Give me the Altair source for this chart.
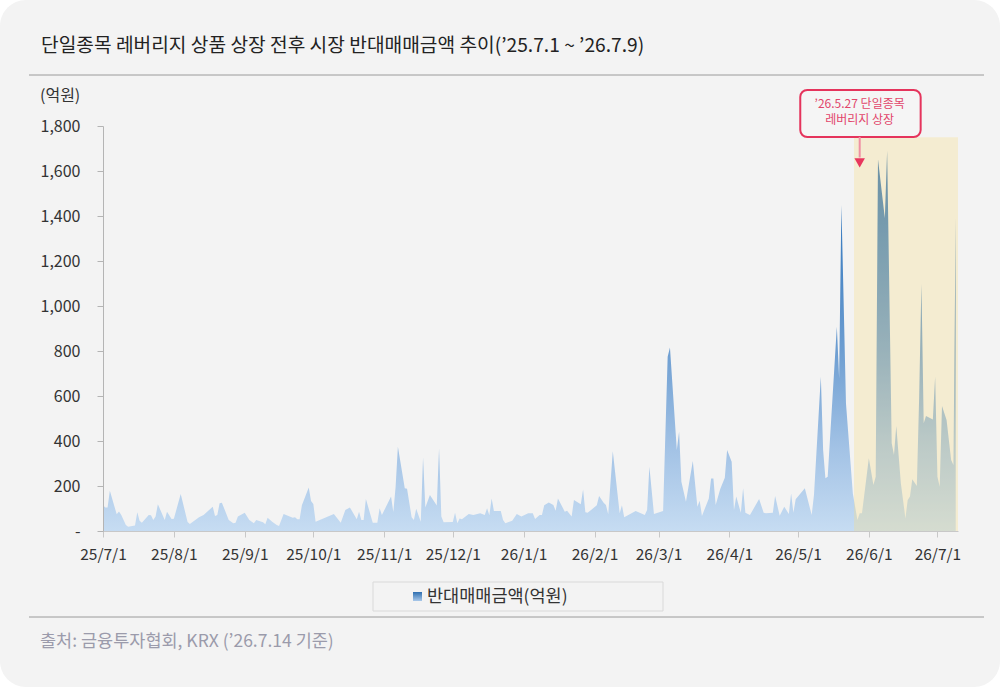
import altair as alt
import pandas as pd

# ---------------- data ----------------
BASE_DATE = "2025-07-01"
# day offsets from 2025-07-01 and the reverse-trade amount (억원)
DAY_OFFSET = [
    0, 1, 2, 3, 6, 7, 8, 10, 11, 14, 15, 16, 17, 20, 21, 22, 23, 24, 27, 28,
    30, 31, 34, 37, 38, 42, 44, 48, 49, 50, 51, 52, 55, 57, 58, 59, 62, 64, 66, 67,
    70, 71, 72, 74, 76, 77, 79, 83, 84, 85, 86, 87, 90, 91, 92, 93, 101, 104, 106, 108,
    111, 112, 113, 114, 115, 118, 120, 121, 122, 126, 127, 128, 129, 132, 133, 135, 136, 137, 139, 140,
    141, 143, 146, 147, 148, 149, 153, 154, 155, 156, 157, 160, 162, 165, 167, 168, 169, 170, 171, 174,
    175, 176, 179, 181, 183, 186, 188, 189, 191, 192, 193, 195, 197, 198, 199, 202, 203, 205, 206, 209,
    210, 211, 212, 216, 217, 219, 220, 221, 223, 226, 227, 228, 233, 237, 238, 239, 241, 245, 247, 248,
    251, 252, 253, 255, 258, 260, 261, 262, 265, 266, 267, 268, 270, 272, 273, 275, 276, 277, 279, 280,
    281, 283, 287, 289, 290, 293, 294, 296, 298, 300, 301, 302, 303, 307, 310, 311, 314, 315, 316, 317,
    321, 322, 323, 325, 328, 330, 331, 332, 335, 337, 338, 339, 342, 343, 345, 346, 347, 349, 351, 352,
    353, 354, 356, 357, 358, 359, 360, 363, 364, 365, 366, 367, 369, 371, 372, 373,
]
AMOUNT = [
    115, 104, 105, 179, 74, 87, 71, 27, 19, 24, 83, 46, 37, 71, 70, 49, 64, 119, 49, 86,
    53, 55, 164, 40, 31, 61, 71, 108, 67, 71, 123, 126, 49, 34, 37, 64, 81, 49, 34, 49,
    39, 30, 59, 41, 27, 22, 76, 59, 61, 52, 52, 114, 193, 133, 120, 41, 76, 37, 93, 105,
    52, 86, 49, 49, 142, 37, 37, 101, 71, 153, 84, 197, 375, 190, 188, 61, 49, 99, 41, 327,
    105, 160, 113, 367, 64, 39, 40, 81, 34, 56, 52, 76, 71, 79, 71, 101, 70, 145, 89, 89,
    49, 34, 46, 76, 64, 79, 79, 53, 71, 71, 114, 127, 116, 90, 145, 86, 90, 64, 138, 119,
    185, 83, 81, 114, 156, 126, 116, 74, 354, 79, 114, 61, 89, 71, 93, 286, 76, 89, 775, 816,
    360, 441, 219, 130, 311, 108, 135, 67, 145, 233, 233, 116, 187, 237, 360, 308, 93, 153, 81, 190,
    81, 71, 142, 81, 79, 81, 156, 68, 108, 76, 167, 81, 141, 190, 71, 160, 686, 360, 234, 241,
    908, 679, 1449, 567, 167, 49, 79, 79, 323, 204, 241, 1652, 1390, 1690, 390, 338, 467, 212, 56, 138,
    153, 230, 200, 590, 1098, 479, 511, 496, 686, 241, 197, 556, 493, 316, 293, 1394,
]
Y_TICKS = [0, 200, 400, 600, 800, 1000, 1200, 1400, 1600, 1800]

TITLE = "단일종목 레버리지 상품 상장 전후 시장 반대매매금액 추이(’25.7.1 ~ ’26.7.9)"
UNIT = "(억원)"
SOURCE = "출처: 금융투자협회, KRX (’26.7.14 기준)"
LEGEND_LABEL = "반대매매금액(억원)"
ANNOT_LINES = ["’26.5.27 단일종목", "레버리지 상장"]

HIGHLIGHT_START = "2026-05-25T12:00:00"
HIGHLIGHT_END = "2026-07-10T00:00:00"
HIGHLIGHT_TOP = 1750
ANNOT_DATE = "2026-05-28T00:00:00"

FONT = "Noto Sans CJK KR"

df = pd.DataFrame({
    "date": pd.Timestamp(BASE_DATE) + pd.to_timedelta(DAY_OFFSET, unit="D"),
    "amount": AMOUNT,
})

x_scale = alt.Scale(
    domain=[alt.DateTime(year=2025, month=7, date=1), alt.DateTime(year=2026, month=7, date=10)],
    nice=False,
)
y_scale = alt.Scale(domain=[0, 1800], nice=False)

gradient = alt.Gradient(
    gradient="linear",
    x1=1, x2=1, y1=1, y2=0,
    stops=[
        alt.GradientStop(color="#c6dcf2", offset=0),
        alt.GradientStop(color="#a2c2e5", offset=0.22),
        alt.GradientStop(color="#6c9dd1", offset=0.48),
        alt.GradientStop(color="#3a7cc0", offset=0.8),
        alt.GradientStop(color="#2a6cb1", offset=1),
    ],
)

W, H = 855, 405
PAD_L, PAD_T = 103, 126

# background card
card = alt.Chart(pd.DataFrame({"k": [0]})).mark_rect(
    fill="#f3f3f3", cornerRadius=26
).encode(
    x=alt.value(-PAD_L), x2=alt.value(1000 - PAD_L),
    y=alt.value(-PAD_T), y2=alt.value(687 - PAD_T),
)

area = alt.Chart(df).mark_area(color=gradient, interpolate="linear").encode(
    x=alt.X(
        "date:T", scale=x_scale, title=None,
        axis=alt.Axis(
            tickCount="month", format="%y/%-m/%-d", labelFontSize=15.5,
            labelColor="#333333", tickSize=6, labelPadding=10,
            domainColor="#c8c8c8", tickColor="#c8c8c8", grid=False,
            labelFont=FONT, zindex=2, labelOverlap=False, labelBound=False,
            labelFlush=False,
        ),
    ),
    y=alt.Y(
        "amount:Q", scale=y_scale, title=None,
        axis=alt.Axis(
            values=Y_TICKS, labelExpr="datum.value == 0 ? '-' : format(datum.value, ',')",
            labelFontSize=16, labelColor="#333333", tickSize=6, labelPadding=17,
            domainColor="#b4b4b4", tickColor="#b4b4b4", grid=False, labelFont=FONT,
            zindex=2, labelOverlap=False,
        ),
    ),
)

hl_df = pd.DataFrame({"start": [HIGHLIGHT_START], "end": [HIGHLIGHT_END], "top": [HIGHLIGHT_TOP], "bottom": [0]})
highlight = alt.Chart(hl_df).mark_rect(fill="#f5dc88", opacity=0.32).encode(
    x="start:T", x2="end:T", y="top:Q", y2="bottom:Q",
)

box_df = pd.DataFrame({"x0": ["2026-05-02T00:00:00"], "x1": ["2026-06-23T16:00:00"], "y0": [1751], "y1": [1960]})
annot_box = alt.Chart(box_df).mark_rect(
    fill="#f5f5f5", stroke="#e5345c", strokeWidth=2, cornerRadius=7
).encode(x="x0:T", x2="x1:T", y="y0:Q", y2="y1:Q")

arrow_df = pd.DataFrame({"d": [ANNOT_DATE], "y0": [1751], "y1": [1660], "tip": [1636]})
arrow_line = alt.Chart(arrow_df).mark_rule(color="#ef8fa3", strokeWidth=2).encode(
    x="d:T", y="y0:Q", y2="y1:Q"
)
arrow_head = alt.Chart(arrow_df).mark_point(
    shape="triangle-down", filled=True, color="#e8365d", size=110, opacity=1
).encode(x="d:T", y="tip:Q")

annot_txt_df = pd.DataFrame({"d": [ANNOT_DATE, ANNOT_DATE], "v": [1900, 1826], "t": ANNOT_LINES})
annot_text = alt.Chart(annot_txt_df).mark_text(
    font=FONT, fontSize=12, color="#e2456b", baseline="middle", align="center"
).encode(x="d:T", y="v:Q", text="t:N")

def pixel_text(txt, x, y, size, color, weight="normal"):
    return alt.Chart(pd.DataFrame({"t": [txt]})).mark_text(
        font=FONT, fontSize=size, color=color, align="left", baseline="middle", fontWeight=weight
    ).encode(x=alt.value(x - PAD_L), y=alt.value(y - PAD_T), text="t:N")

def pixel_rule(x0, x1, y, color):
    return alt.Chart(pd.DataFrame({"k": [0]})).mark_rule(color=color, strokeWidth=1).encode(
        x=alt.value(x0 - PAD_L), x2=alt.value(x1 - PAD_L), y=alt.value(y - PAD_T)
    )

title = pixel_text(TITLE, 41, 46, 19.2, "#222222")
unit = pixel_text(UNIT, 40, 96, 16, "#333333")
source = pixel_text(SOURCE, 40, 642, 17.5, "#9b9bab")
top_line = pixel_rule(29, 984, 75, "#9a9a9a")
bottom_line = pixel_rule(29, 984, 617, "#9a9a9a")

legend_box = alt.Chart(pd.DataFrame({"k": [0]})).mark_rect(
    fill="#f3f3f3", stroke="#d9d9d9", strokeWidth=1
).encode(
    x=alt.value(373 - PAD_L), x2=alt.value(663 - PAD_L),
    y=alt.value(582 - PAD_T), y2=alt.value(611 - PAD_T),
)
legend_swatch = alt.Chart(pd.DataFrame({"k": [0]})).mark_rect(
    color=alt.Gradient(
        gradient="linear", x1=1, x2=1, y1=1, y2=0,
        stops=[alt.GradientStop(color="#a9c8ea", offset=0), alt.GradientStop(color="#2f6fb0", offset=1)],
    )
).encode(
    x=alt.value(413 - PAD_L), x2=alt.value(422 - PAD_L),
    y=alt.value(592 - PAD_T), y2=alt.value(601 - PAD_T),
)
legend_text = pixel_text(LEGEND_LABEL, 427, 597, 17.5, "#333333")

chart = alt.layer(
    card, area, highlight, annot_box, arrow_line, arrow_head, annot_text,
    title, unit, source, top_line, bottom_line, legend_box, legend_swatch, legend_text,
).properties(
    width=W, height=H,
    padding={"left": PAD_L, "top": PAD_T, "right": 1000 - PAD_L - W, "bottom": 687 - PAD_T - H},
    autosize=alt.AutoSizeParams(type="none"),
    background="white",
).configure_view(stroke=None)

chart.save("out.html", embed_options={"renderer": "svg", "actions": False})
